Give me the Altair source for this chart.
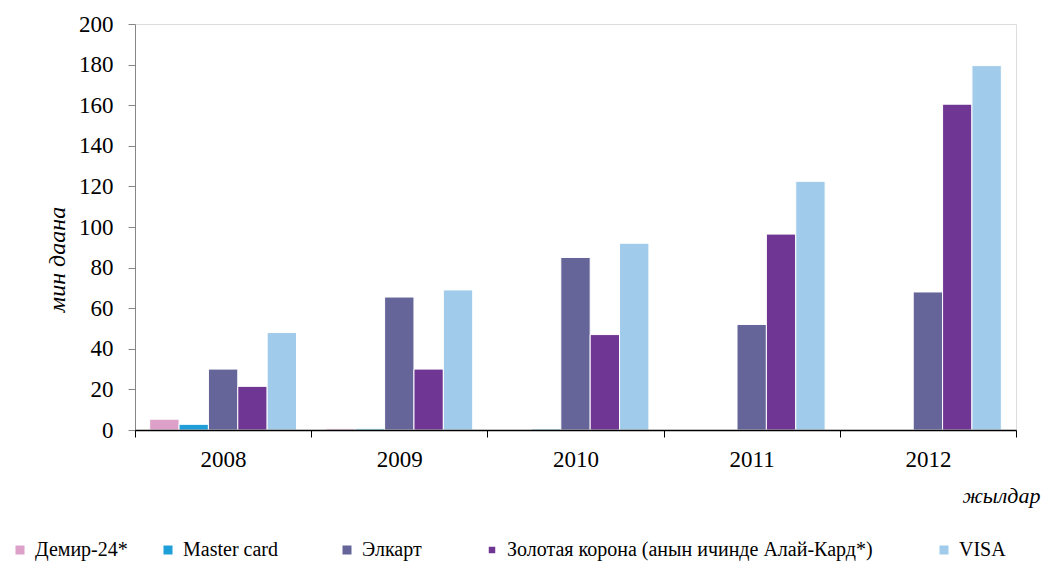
import altair as alt
import pandas as pd

years = ["2008", "2009", "2010", "2011", "2012"]
series = ["Демир-24*", "Master card", "Элкарт",
          "Золотая корона (анын ичинде Алай-Кард*)", "VISA"]
demir = [5.3, 0.8, 0, 0, 0]
master = [2.8, 0.6, 0.5, 0, 0]
elkart = [30, 65.5, 85, 52, 68]
zolotaya = [21.5, 30, 47, 96.5, 160.5]
visa = [48, 69, 92, 122.5, 179.5]
colors = ["#dda0c8", "#1f9fd9", "#65659a", "#6f3793", "#a0cbeb"]

# legend entry placement (style, relative to plot's left edge)
legend_x = [-125, 23, 202, 347, 799]
legend_symbol = [81, 81, 81, 42, 81]

values = [demir, master, elkart, zolotaya, visa]
rows = []
for s, vals in zip(series, values):
    for y, v in zip(years, vals):
        rows.append({"year": y, "series": s, "value": v})
df = pd.DataFrame(rows)

FONT = "Liberation Serif"

x_axis = alt.Axis(title="жылдар", labelAngle=0, tickBand="extent", zindex=1,
                  domainColor="black", domainWidth=1.5,
                  tickColor="black", tickWidth=1, tickSize=7,
                  labelFont=FONT, labelFontSize=23, labelColor="black",
                  labelPadding=11,
                  titleFont=FONT, titleFontSize=22, titleFontStyle="italic",
                  titleFontWeight="normal", titleColor="black",
                  titleAnchor="end", titleAlign="right",
                  titleX=905, titleY=72, titleBaseline="alphabetic")
y_axis = alt.Axis(title="мин даана", values=list(range(0, 201, 20)),
                  grid=False, domainColor="#868686", tickColor="#868686",
                  tickSize=7, labelPadding=15,
                  labelFont=FONT, labelFontSize=23, labelColor="black",
                  titleFont=FONT, titleFontSize=24, titleFontStyle="italic",
                  titleFontWeight="normal", titleColor="black",
                  titleAngle=270, titleAlign="center", titleBaseline="middle",
                  titleX=-78, titleY=235)

layers = []
for i, s in enumerate(series):
    sub = df[df["series"] == s]
    layers.append(
        alt.Chart(sub).mark_bar(stroke="white", strokeWidth=1).encode(
            x=alt.X("year:N", sort=years,
                    scale=alt.Scale(domain=years, paddingInner=0, paddingOuter=0),
                    axis=x_axis),
            xOffset=alt.XOffset("series:N",
                                scale=alt.Scale(domain=series, paddingInner=0,
                                                paddingOuter=0.5)),
            y=alt.Y("value:Q", scale=alt.Scale(domain=[0, 200], nice=False),
                    axis=y_axis),
            color=alt.Color("series:N",
                            scale=alt.Scale(domain=[s], range=[colors[i]]),
                            legend=alt.Legend(title=None, orient="none",
                                              legendX=legend_x[i], legendY=516,
                                              symbolType="square",
                                              symbolSize=legend_symbol[i],
                                              symbolStrokeWidth=0,
                                              labelOffset=5,
                                              labelFont=FONT, labelFontSize=20,
                                              labelColor="black", labelLimit=500)),
        )
    )

chart = alt.layer(*layers).resolve_scale(color="independent").resolve_legend(
    color="independent"
).properties(
    width=881, height=406,
    autosize=alt.AutoSizeParams(type="none"),
    padding={"left": 127, "top": 16, "right": 25, "bottom": 131},
).configure_view(stroke=None).configure(background="white", font=FONT)

chart.save("out.html", embed_options={"renderer": "svg", "actions": False})
